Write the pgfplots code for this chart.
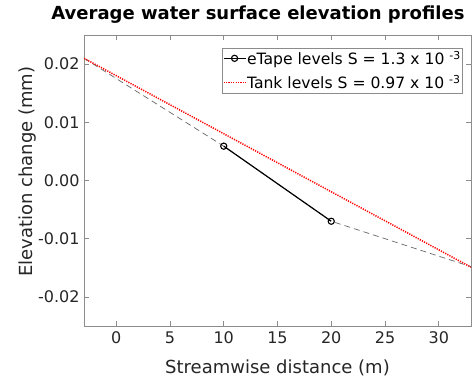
\documentclass[border=0pt]{standalone}
\usepackage{fontspec}
\setmainfont{DejaVu Sans}
\usepackage{pgfplots}
\pgfplotsset{compat=1.18}

\definecolor{axgray}{gray}{0.55}
\definecolor{txtgray}{gray}{0.15}
\definecolor{fitgray}{gray}{0.4}
\definecolor{tankred}{rgb}{1,0,0}

% eTape gauge means and the fitted profile through them
\pgfplotstableread{
x y
10 0.0059
20 -0.0070
}\etape
\pgfplotstableread{
x y
-3 0.0210
10 0.0059
20 -0.0070
33 -0.0148
}\etapefit
\pgfplotstableread{
x y
-3 0.0210
33 -0.0149
}\tank

\begin{document}
\begin{tikzpicture}
\begin{axis}[
  scale only axis, width=387pt, height=291pt,
  xmin=-3, xmax=33, ymin=-0.025, ymax=0.025,
  xtick={0,5,10,15,20,25,30},
  ytick={-0.02,-0.01,0,0.01,0.02},
  scaled y ticks=false,
  yticklabel style={/pgf/number format/fixed,
    /pgf/number format/fixed zerofill,
    /pgf/number format/precision=2},
  /pgf/number format/assume math mode=true,
  ticklabel style={font=\fontsize{16}{19}\selectfont, text=txtgray},
  xticklabel style={yshift=-2pt},
  yticklabel style={xshift=-1pt},
  tick align=inside,
  major tick length=5pt,
  axis line style={axgray, line width=0.8pt},
  tick style={axgray, line width=0.8pt},
  xlabel={Streamwise distance (m)},
  ylabel={Elevation change (mm)},
  xlabel style={at={(axis description cs:0.5,-0.145)}, anchor=center,
    font=\fontsize{18}{21}\selectfont, text=txtgray},
  ylabel style={at={(axis description cs:-0.145,0.53)}, anchor=center,
    rotate=0, font=\fontsize{18}{21}\selectfont, text=txtgray},
  title={\bfseries Average water surface elevation profiles},
  title style={at={(axis description cs:0.4496,1.031)}, anchor=base,
    font=\fontsize{18}{21}\selectfont, text=black},
  legend style={at={(axis description cs:0.980,0.957)}, anchor=north east,
    draw=axgray, line width=0.8pt, fill=white,
    font=\fontsize{15.6}{18}\selectfont,
    inner xsep=1pt, inner ysep=1pt, row sep=5.6pt,
    nodes={inner xsep=1pt},
    cells={anchor=west}},
  legend image code/.code={%
    \draw[draw, line width=1pt, mark repeat=2, mark phase=2, #1]
      plot coordinates {(0pt,0pt) (11pt,0pt) (22pt,0pt)};},
]
\addplot[fitgray, line width=0.7pt, dash pattern=on 6pt off 4pt, forget plot]
  table[x=x, y=y] {\etapefit};
\addplot[black, line width=1.2pt, mark=o,
  mark options={solid, line width=1.1pt}, mark size=3.1pt]
  table[x=x, y=y] {\etape};
\addlegendentry{eTape levels S = 1.3 x 10 \textsuperscript{-3}}
\addplot[tankred, line width=1.5pt, dash pattern=on 1.2pt off 1.2pt]
  table[x=x, y=y] {\tank};
\addlegendentry{Tank levels S = 0.97 x 10 \textsuperscript{-3}}
\end{axis}
\pgfresetboundingbox
\path[use as bounding box] (-84pt,-54pt) rectangle (389pt,326pt);
\end{tikzpicture}
\end{document}
